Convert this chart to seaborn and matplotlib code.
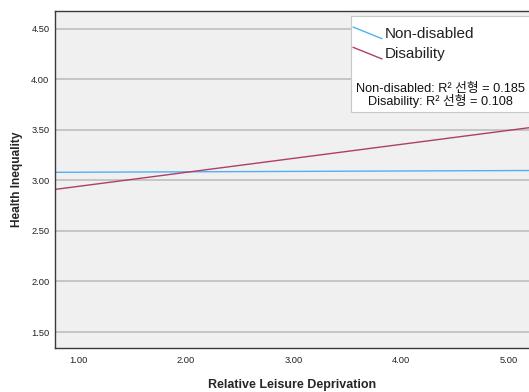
import matplotlib
matplotlib.use("Agg")
import matplotlib.pyplot as plt
import seaborn as sns
import pandas as pd
from matplotlib.lines import Line2D
from matplotlib.legend_handler import HandlerBase
from matplotlib.patches import Rectangle

# ---- data (fit lines, at the axis edges) ----
x_ends = [0.78, 5.19]
nondisabled = [3.079, 3.097]
disability = [2.91, 3.52]
groups = ["Non-disabled", "Disability"]
colors = ["#4FB2F0", "#AE3F66"]
r2_labels = ["Non-disabled: R² 선형 = 0.185", "Disability: R² 선형 = 0.108"]
xticks = [1.0, 2.0, 3.0, 4.0, 5.0]
yticks = [1.5, 2.0, 2.5, 3.0, 3.5, 4.0, 4.5]
xlim = (0.78, 5.19)
ylim = (1.342, 4.674)

df = pd.DataFrame({
    "x": x_ends * 2,
    "y": nondisabled + disability,
    "group": [groups[0]] * 2 + [groups[1]] * 2,
})

sns.set_style("white")
plt.rcParams["font.family"] = ["Liberation Sans", "Noto Sans CJK KR", "DejaVu Sans"]

fig = plt.figure(figsize=(5.29, 3.92), dpi=100)
ax = fig.add_axes([55 / 529, 44 / 392, 1 - 55 / 529, (348 - 11) / 392])
ax.set_facecolor("#F0F0F0")

sns.lineplot(data=df, x="x", y="y", hue="group", hue_order=groups,
             palette=colors, linewidth=1.0, legend=False, ax=ax)

ax.set_xlim(*xlim)
ax.set_ylim(*ylim)
ax.set_xticks(xticks)
ax.set_yticks(yticks)
ax.set_xticklabels([f"{v:.2f}" for v in xticks])
ax.set_yticklabels([f"{v:.2f}" for v in yticks])
ax.tick_params(axis="both", length=0, labelsize=6.7, colors="#222222", pad=4)
ax.tick_params(axis="x", pad=6)
ax.yaxis.grid(True, color="#BEBEBE", linewidth=1.2)
ax.xaxis.grid(False)
ax.set_axisbelow(True)
for s in ["left", "bottom", "top"]:
    ax.spines[s].set_color("#3A3A3A")
    ax.spines[s].set_linewidth(1.0)
ax.spines["right"].set_visible(False)

ax.set_xlabel("Relative Leisure Deprivation", fontsize=9.0, fontweight="bold", labelpad=10)
ax.set_ylabel("Health Inequality", fontsize=8.6, fontweight="bold", labelpad=6)


class DiagHandler(HandlerBase):
    def create_artists(self, legend, orig_handle, xdescent, ydescent,
                       width, height, fontsize, trans):
        ln = Line2D([-xdescent, -xdescent + width],
                    [-ydescent + height, -ydescent],
                    color=orig_handle.get_color(), linewidth=1.0)
        ln.set_transform(trans)
        return [ln]


# legend box
box = Rectangle((351 / 529, 1 - 112 / 392), 0.5, (112 - 16) / 392,
                transform=fig.transFigure, facecolor="white",
                edgecolor="#C8C8C8", linewidth=0.8, zorder=5)
fig.add_artist(box)

handles = [Line2D([], [], color=c) for c in colors]
leg = fig.legend(handles, groups, loc="upper left",
                 bbox_to_anchor=(353 / 529, 1 - 27 / 392),
                 bbox_transform=fig.transFigure, frameon=False,
                 fontsize=11, handlelength=1.9, handleheight=0.8,
                 handletextpad=0.2, borderpad=0, borderaxespad=0,
                 labelspacing=0.4,
                 handler_map={Line2D: DiagHandler()})
leg.set_zorder(6)
for t in leg.get_texts():
    t.set_color("#222222")

for i, lab in enumerate(r2_labels):
    fig.text(440 / 529, 1 - (89 + 11.5 * i) / 392, lab, ha="center", va="center",
             fontsize=9.2, color="#111111", zorder=7)

fig.savefig("out.png", dpi=100)
